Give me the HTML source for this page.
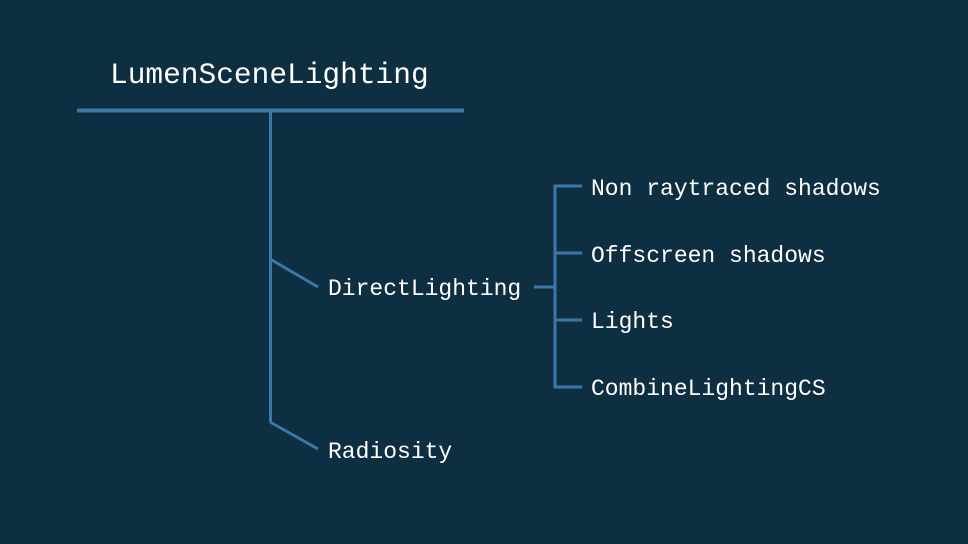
<!DOCTYPE html>
<html><head><style>
html,body{margin:0;padding:0;background:#0e2e42;}
svg{display:block}
text{font-family:"Liberation Mono","DejaVu Sans Mono",monospace;fill:#ffffff;}
</style></head><body>
<svg width="968" height="544" viewBox="0 0 968 544" xmlns="http://www.w3.org/2000/svg">
<rect width="968" height="544" fill="#0e2e42"/>
<g stroke="#3a78a8" fill="none">
<line x1="77" y1="110.5" x2="464" y2="110.5" stroke-width="4"/>
<line x1="270.5" y1="110" x2="270.5" y2="422" stroke-width="3"/>
<line x1="270" y1="259" x2="318" y2="287" stroke-width="3"/>
<line x1="270" y1="422" x2="318" y2="449" stroke-width="3"/>
<line x1="534" y1="287" x2="556" y2="287" stroke-width="3"/>
<polyline points="582,186 555,186 555,387 582,387" stroke-width="3"/>
<line x1="555" y1="253" x2="582" y2="253" stroke-width="3"/>
<line x1="555" y1="320" x2="582" y2="320" stroke-width="3"/>
</g>
<text x="110" y="83" font-size="29.5">LumenSceneLighting</text>
<text x="328" y="295" font-size="23">DirectLighting</text>
<text x="328" y="458" font-size="23">Radiosity</text>
<text x="591" y="195" font-size="23">Non raytraced shadows</text>
<text x="591" y="262" font-size="23">Offscreen shadows</text>
<text x="591" y="328" font-size="23">Lights</text>
<text x="591" y="395" font-size="23">CombineLightingCS</text>
</svg>
</body></html>
